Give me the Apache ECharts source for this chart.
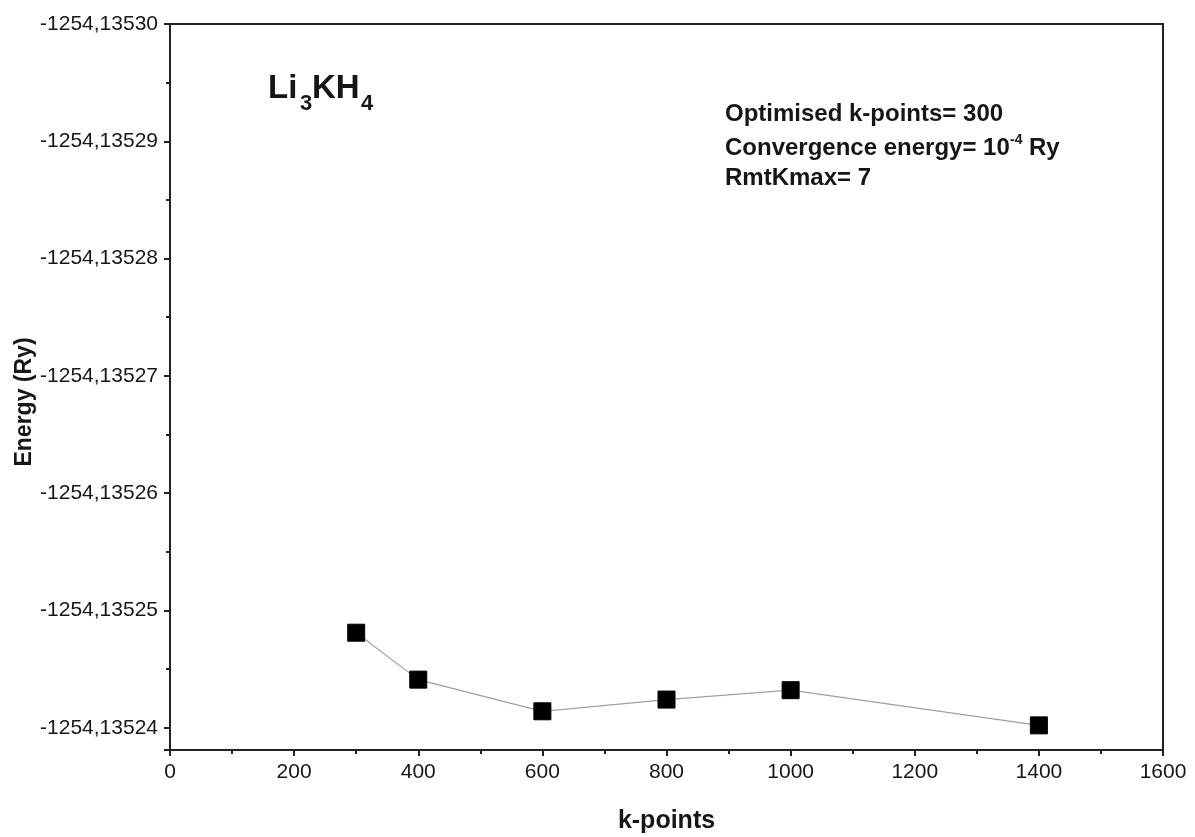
<!DOCTYPE html>
<html>
<head>
<meta charset="utf-8">
<script src="https://cdn.jsdelivr.net/npm/echarts@6/dist/echarts.min.js"></script>
<style>
  html, body { margin: 0; padding: 0; background: #fff; }
  #chart { width: 1195px; height: 837px; }
</style>
</head>
<body>
<div id="chart"></div>
<script>
// k-point convergence test for Li3KH4
const kPoints = [300, 400, 600, 800, 1000, 1400];
const energies = [-1254.1352481, -1254.1352441, -1254.1352414, -1254.1352424, -1254.1352432, -1254.1352402];
const yTicks = [-1254.13530, -1254.13529, -1254.13528, -1254.13527, -1254.13526, -1254.13525, -1254.13524];
const xTicks = [0, 200, 400, 600, 800, 1000, 1200, 1400, 1600];

// Energies are plotted in units of 1e-5 Ry relative to a reference level,
// so the axis can use clean integer ticks.
const REF = -1254.1352;
const SCALE = 1e5;
const toUnit = e => (e - REF) * SCALE;
const fromUnit = u => REF + u / SCALE;

const yMin = toUnit(yTicks[0]);            // -10
const yMax = toUnit(-1254.1352381);        // bottom edge of the frame

const font = '"Liberation Sans", Arial, sans-serif';
const ink = '#161616';

const chart = echarts.init(document.getElementById('chart'));
chart.setOption({
  animation: false,
  backgroundColor: '#fff',
  grid: {
    left: 170, right: 32, top: 24, bottom: 87,
    containLabel: false, outerBoundsMode: 'none',
    show: true, borderColor: '#222', borderWidth: 2, backgroundColor: 'transparent'
  },
  xAxis: {
    type: 'value',
    min: xTicks[0], max: xTicks[xTicks.length - 1], interval: 200,
    axisLine: { show: true, lineStyle: { color: '#222', width: 2 } },
    axisTick: { show: true, inside: false, length: 6, lineStyle: { color: '#222', width: 2 } },
    minorTick: { show: true, splitNumber: 2, length: 4, lineStyle: { color: '#222', width: 2 } },
    splitLine: { show: false },
    axisLabel: { fontFamily: font, fontSize: 21, color: ink, margin: 12, formatter: v => String(v) },
    name: 'k-points',
    nameLocation: 'middle',
    nameGap: 59,
    nameTextStyle: { fontFamily: font, fontSize: 25, fontWeight: 'bold', color: ink }
  },
  yAxis: {
    type: 'value',
    inverse: true,
    min: yMin, max: yMax, interval: 1,
    axisLine: { show: true, lineStyle: { color: '#222', width: 2 } },
    axisTick: { show: true, inside: false, length: 6, lineStyle: { color: '#222', width: 2 } },
    minorTick: { show: true, splitNumber: 2, length: 4, lineStyle: { color: '#222', width: 2 } },
    splitLine: { show: false },
    axisLabel: {
      fontFamily: font, fontSize: 21, color: ink, margin: 12,
      showMaxLabel: false,
      formatter: v => fromUnit(v).toFixed(5).replace('.', ',')
    }
  },
  series: [{
    type: 'line',
    data: kPoints.map((k, i) => [k, toUnit(energies[i])]),
    symbol: 'rect',
    symbolSize: 17,
    itemStyle: { color: '#000', borderColor: '#000' },
    lineStyle: { color: '#a0a0a0', width: 1.2 }
  }],
  graphic: [
    // y-axis title
    {
      type: 'text', x: 25, y: 402, rotation: Math.PI / 2,
      style: {
        text: 'Energy (Ry)', fontFamily: font, fontSize: 23, fontWeight: 'bold',
        fill: ink, align: 'center', verticalAlign: 'middle'
      }
    },
    // compound label: Li3KH4
    { type: 'text', x: 268, y: 89, style: { text: 'Li', fontFamily: font, fontSize: 33, fontWeight: 'bold', fill: ink, verticalAlign: 'middle' } },
    { type: 'text', x: 300, y: 104, style: { text: '3', fontFamily: font, fontSize: 22, fontWeight: 'bold', fill: ink, verticalAlign: 'middle' } },
    { type: 'text', x: 312, y: 89, style: { text: 'KH', fontFamily: font, fontSize: 33, fontWeight: 'bold', fill: ink, verticalAlign: 'middle' } },
    { type: 'text', x: 361, y: 104, style: { text: '4', fontFamily: font, fontSize: 22, fontWeight: 'bold', fill: ink, verticalAlign: 'middle' } },
    // calculation parameters
    {
      type: 'text', x: 725, y: 114,
      style: { text: 'Optimised k-points= 300', fontFamily: font, fontSize: 24, fontWeight: 'bold', fill: ink, verticalAlign: 'middle' }
    },
    {
      type: 'text', x: 725, y: 148,
      style: { text: 'Convergence energy= 10', fontFamily: font, fontSize: 24, fontWeight: 'bold', fill: ink, verticalAlign: 'middle' }
    },
    {
      type: 'text', x: 1010, y: 140,
      style: { text: '-4', fontFamily: font, fontSize: 14, fontWeight: 'bold', fill: ink, verticalAlign: 'middle' }
    },
    {
      type: 'text', x: 1029, y: 148,
      style: { text: 'Ry', fontFamily: font, fontSize: 24, fontWeight: 'bold', fill: ink, verticalAlign: 'middle' }
    },
    {
      type: 'text', x: 725, y: 178,
      style: { text: 'RmtKmax= 7', fontFamily: font, fontSize: 24, fontWeight: 'bold', fill: ink, verticalAlign: 'middle' }
    }
  ]
});
</script>
</body>
</html>
